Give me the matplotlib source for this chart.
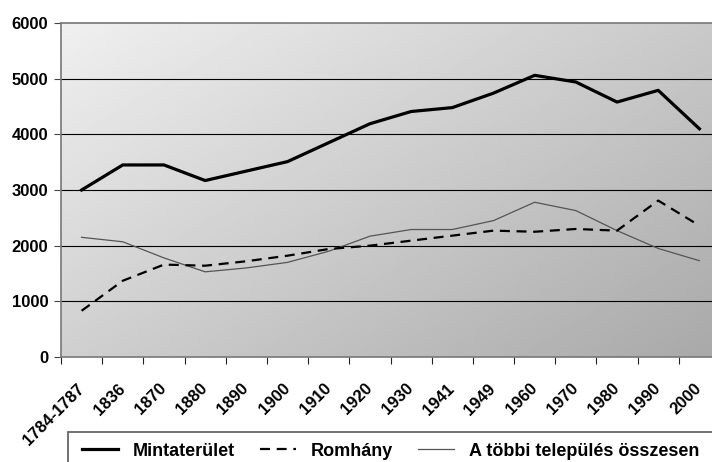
import numpy as np
import matplotlib
matplotlib.use("Agg")
import matplotlib.pyplot as plt
from matplotlib.patches import Rectangle

plt.rcParams['font.family'] = ['Liberation Sans', 'DejaVu Sans']
plt.rcParams['font.weight'] = 'bold'

# data
years = ["1784-1787", "1836", "1870", "1880", "1890", "1900", "1910", "1920",
         "1930", "1941", "1949", "1960", "1970", "1980", "1990", "2000"]
mintaterulet = [3000, 3450, 3450, 3170, 3340, 3510, 3850, 4190,
                4410, 4480, 4740, 5060, 4940, 4580, 4790, 4100]
romhany = [830, 1370, 1660, 1640, 1720, 1820, 1940, 2000,
           2090, 2180, 2270, 2250, 2300, 2270, 2810, 2360]
tobbi = [2150, 2070, 1780, 1530, 1600, 1700, 1900, 2170,
         2290, 2290, 2450, 2780, 2630, 2270, 1950, 1730]

W, H = 712, 462
fig = plt.figure(figsize=(W / 100, H / 100), dpi=100)
ax = fig.add_axes([61 / W, 1 - 357 / H, (720 - 61) / W, 334 / H])

n = len(years)
x = np.arange(n)

# diagonal grey gradient background: light top-left, darker bottom-right
gy, gx = np.mgrid[0:1:200j, 0:1:300j]
grad = 0.94 - 0.28 * (0.55 * gx + 0.45 * gy)
ax.imshow(grad, cmap='gray', vmin=0, vmax=1, extent=[0, 1, 0, 1],
          transform=ax.transAxes, origin='upper', aspect='auto', zorder=0,
          interpolation='bilinear')

for v in range(1000, 6000, 1000):
    ax.axhline(v, color='black', lw=0.8, zorder=1)

ax.plot(x, mintaterulet, color='black', lw=2.3, zorder=3, label='Mintaterület')
ax.plot(x, romhany, color='black', lw=1.6, dashes=(4.5, 3), zorder=3, label='Romhány')
ax.plot(x, tobbi, color='#555555', lw=0.9, zorder=2, label='A többi település összesen')

ax.set_xlim(-0.5, n - 0.5)
ax.set_ylim(0, 6000)
ax.set_yticks(range(0, 6001, 1000))
ax.tick_params(axis='y', direction='out', length=5, color='#444444', labelsize=12, pad=4)

ax.set_xticks(np.arange(-0.5, n, 1))
ax.set_xticklabels([])
ax.tick_params(axis='x', which='major', direction='out', length=5, color='#222222')
ax.set_xticks(x, minor=True)
ax.set_xticklabels(years, minor=True, rotation=45, ha='right', va='center',
                   rotation_mode='anchor', fontsize=12)
ax.tick_params(axis='x', which='minor', length=0, pad=21)

for s in ['left', 'bottom', 'top']:
    ax.spines[s].set_color('#777777')
    ax.spines[s].set_linewidth(1.2)
ax.spines['right'].set_visible(False)

# legend box (clipped by the bottom edge like the original)
fig.patches.append(Rectangle((68 / W, -0.1), 1.0, (1 - 432 / H) + 0.1,
                             transform=fig.transFigure, fill=False,
                             edgecolor='#666666', lw=1.3))
fig.legend(loc='center left', bbox_to_anchor=(82 / W, 1 - 451 / H), ncol=3,
           frameon=False, fontsize=13, handlelength=2.0, handletextpad=0.8,
           columnspacing=1.4, borderpad=0, borderaxespad=0)

fig.savefig('out.png', dpi=100)
